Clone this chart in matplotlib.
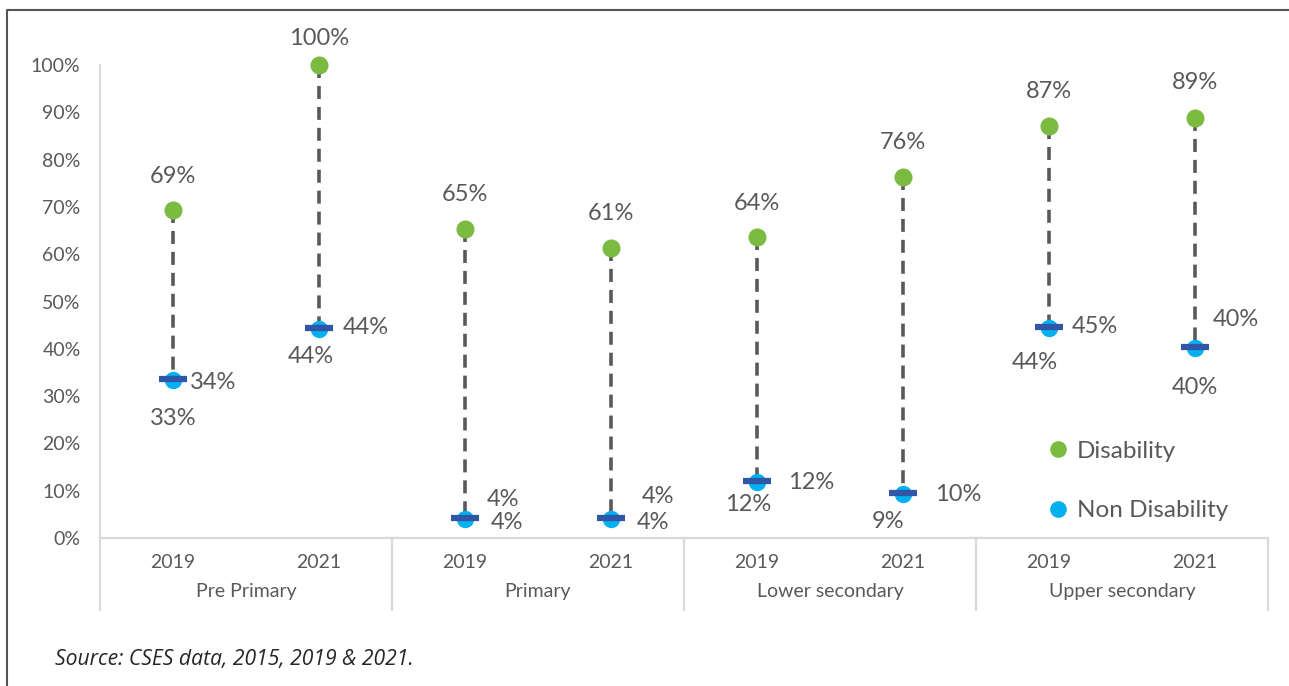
import matplotlib
matplotlib.use('Agg')
import matplotlib.pyplot as plt
from matplotlib.lines import Line2D
import numpy as np

plt.close('all')

# Data (percent)
years = ['2019', '2021', '2019', '2021', '2019', '2021', '2019', '2021']
groups = ['Pre Primary', 'Primary', 'Lower secondary', 'Upper secondary']
disability = [69.3, 100.0, 65.4, 61.4, 63.6, 76.4, 87.0, 88.9]
non_disability = [33.4, 44.2, 4.1, 4.1, 11.9, 9.4, 44.4, 40.2]
dash_values = [33.6, 44.4, 4.3, 4.3, 12.1, 9.6, 44.7, 40.4]

# Label offsets in pixels (dx, dy with dy positive = down), as placed in the original
green_off = [(0, 34), (0, 27), (0, 34), (0, 34), (0, 34), (0, 34), (0, 35), (0, 35)]
dash_off = [(17, 3), (24, 0), (22, -18), (31, -21), (31, 2), (32, 2), (23, 0), (18, -27)]
dot_off = [(0, 38), (-8, 28), (42, 4), (42, 4), (-9, 23), (-15, 28), (-14, 35), (0, 40)]

green = '#7CBB42'
blue = '#00B0F0'
navy = '#3056A8'
txt = '#595959'
axis_gray = '#D9D9D9'

plt.rcParams['font.family'] = ['Lato', 'DejaVu Sans']

W, H = 1289, 686
fig = plt.figure(figsize=(W / 100, H / 100), dpi=100)
ax = fig.add_axes([100 / W, 1 - 538 / H, 1168 / W, 473 / H])

x = np.arange(len(years))
d = np.array(disability) / 100
n = np.array(non_disability) / 100
m = np.array(dash_values) / 100

# Dashed connectors
for i in range(len(x)):
    ax.plot([x[i], x[i]], [d[i], m[i]], color='#595959', lw=2.6,
            linestyle=(0, (3.6, 2.2)), zorder=1, clip_on=False)

ax.plot(x, d, 'o', color=green, ms=13, mec='none', zorder=3, clip_on=False)
ax.plot(x, n, 'o', color=blue, ms=12.5, mec='none', zorder=3, clip_on=False)
ax.plot(x, m, '_', color=navy, ms=20, mew=4.5, zorder=4, clip_on=False)

# Data labels
for i in range(len(x)):
    ax.annotate(f'{disability[i]:.0f}%', (x[i], d[i]), xytext=(green_off[i][0], green_off[i][1]),
                textcoords='offset pixels', ha='center', va='center', fontsize=17, color=txt)
    ax.annotate(f'{dash_values[i]:.0f}%', (x[i], m[i]), xytext=(dash_off[i][0], -dash_off[i][1]),
                textcoords='offset pixels', ha='left', va='center', fontsize=17, color=txt)
    ax.annotate(f'{non_disability[i]:.0f}%', (x[i], n[i]), xytext=(dot_off[i][0], -dot_off[i][1]),
                textcoords='offset pixels', ha='center', va='center', fontsize=17, color=txt)

ax.set_xlim(-0.5, len(x) - 0.5)
ax.set_ylim(0, 1)
ax.set_yticks(np.arange(0, 1.01, 0.1))
ax.set_yticklabels([f'{v}%' for v in range(0, 101, 10)])
ax.tick_params(axis='y', length=0, pad=14, labelsize=14, labelcolor=txt)
ax.set_xticks([])

for s in ['top', 'right']:
    ax.spines[s].set_visible(False)
for s in ['left', 'bottom']:
    ax.spines[s].set_color(axis_gray)
    ax.spines[s].set_linewidth(1.6)

# Two-level category axis
xtr = ax.get_xaxis_transform()
for i in range(len(x)):
    ax.annotate(years[i], (x[i], 0), xycoords=xtr, xytext=(0, -24), textcoords='offset pixels',
                ha='center', va='center', fontsize=14, color=txt)
for g in range(len(groups)):
    ax.annotate(groups[g], (2 * g + 0.5, 0), xycoords=xtr, xytext=(0, -53),
                textcoords='offset pixels', ha='center', va='center', fontsize=14, color=txt)
for b in np.arange(-0.5, len(x), 2):
    ax.plot([b, b], [0, -72 / 473], transform=xtr, color=axis_gray, lw=1.6, clip_on=False)

# Legend
handles = [Line2D([], [], marker='o', ls='none', color=green, ms=12, mec='none'),
           Line2D([], [], marker='o', ls='none', color=blue, ms=12, mec='none')]
fig.legend(handles, ['Disability', 'Non Disability'], loc='center left',
           bbox_to_anchor=(1039 / W, 1 - 481 / H), frameon=False, fontsize=17.5,
           labelcolor=txt, handlelength=0.6, handletextpad=0.45, labelspacing=1.6,
           borderpad=0)

# Source note
fig.text(55 / W, 1 - 660 / H, 'Source: CSES data, 2015, 2019 & 2021.', fontsize=15.2,
         family=['Open Sans', 'DejaVu Sans'], style='italic', color='#262626', va='center')

# Outer frame (top and left edges visible in the crop)
fig.add_artist(Line2D([7 / W, 7 / W, 1], [0, 1 - 10 / H, 1 - 10 / H],
                      color='#555555', lw=1.5, transform=fig.transFigure))

fig.savefig('out.png', dpi=100)
